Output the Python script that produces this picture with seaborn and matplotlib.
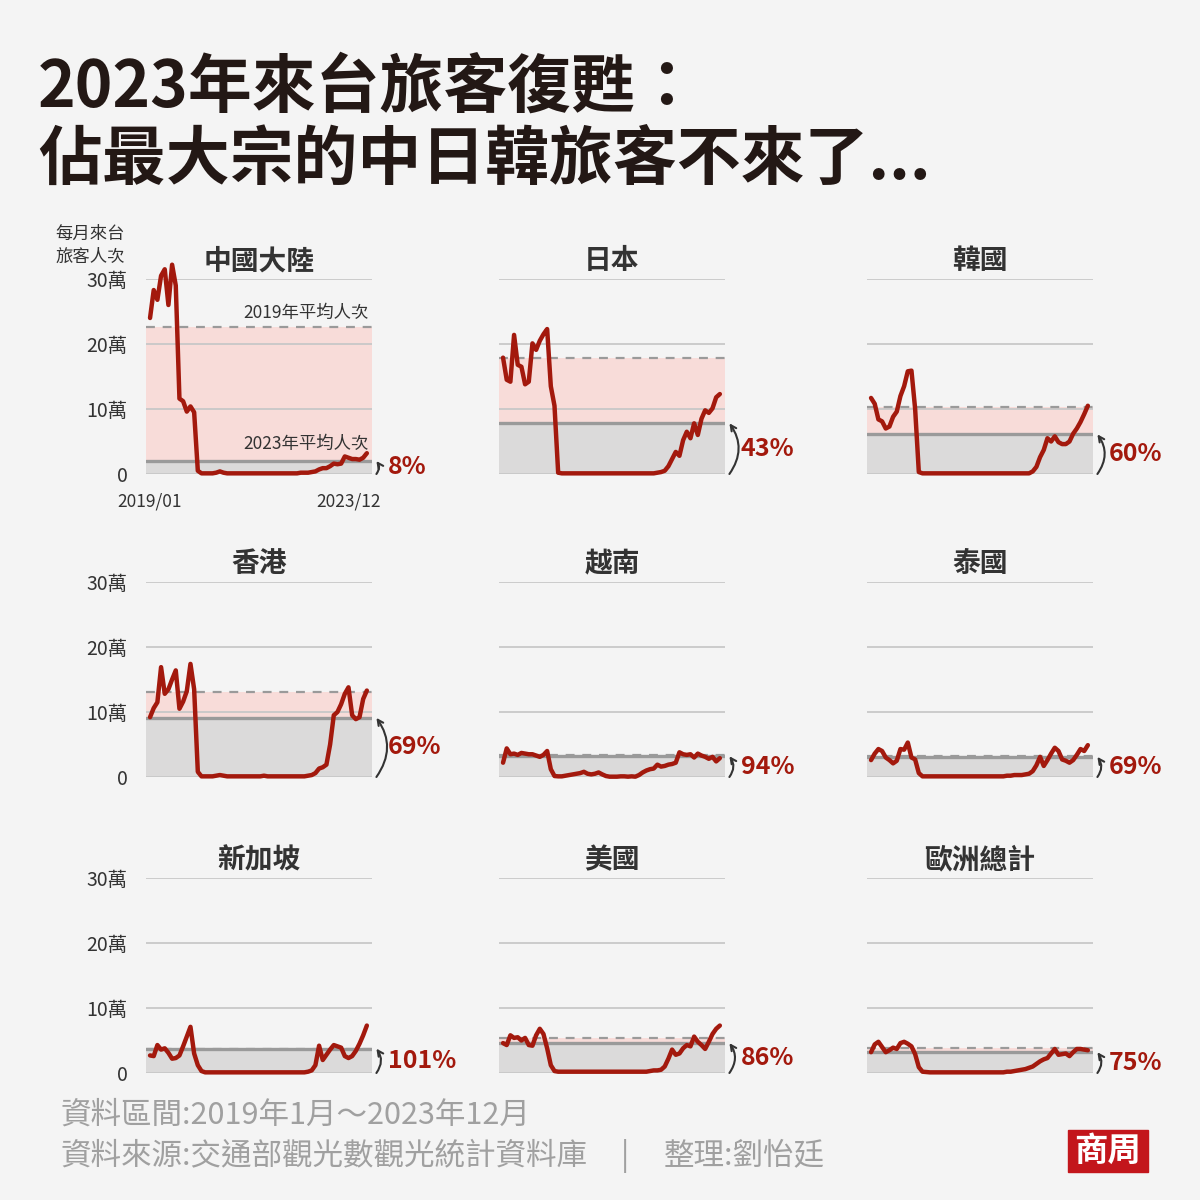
import numpy as np
import pandas as pd
import seaborn as sns
import matplotlib.pyplot as plt
from matplotlib.patches import Rectangle

sns.set_style('white')
plt.rcParams['font.family'] = ['Noto Sans CJK TC', 'DejaVu Sans']

# monthly visitors (unit: 萬人次), 2019/01 - 2023/12
months = list(range(60))

china = [24.0, 28.3, 26.8, 30.5, 31.5, 26.0, 32.2, 29.0, 11.6, 11.2, 9.6, 10.4,
         9.5, 0.5, 0.1, 0.1, 0.1, 0.1, 0.2, 0.4, 0.2, 0.1, 0.1, 0.1,
         0.1, 0.1, 0.1, 0.1, 0.1, 0.1, 0.1, 0.1, 0.1, 0.1, 0.1, 0.1,
         0.1, 0.1, 0.1, 0.1, 0.1, 0.2, 0.2, 0.2, 0.3, 0.4, 0.7, 0.9,
         0.9, 1.2, 1.6, 1.5, 1.6, 2.7, 2.5, 2.3, 2.3, 2.2, 2.5, 3.2]
japan = [17.9, 14.5, 14.2, 21.4, 16.8, 16.5, 13.8, 14.2, 20.1, 19.1, 20.5, 21.5,
         22.3, 13.5, 10.5, 0.2, 0.1, 0.1, 0.1, 0.1, 0.1, 0.1, 0.1, 0.1,
         0.1, 0.1, 0.1, 0.1, 0.1, 0.1, 0.1, 0.1, 0.1, 0.1, 0.1, 0.1,
         0.1, 0.1, 0.1, 0.1, 0.1, 0.1, 0.2, 0.3, 0.5, 1.2, 2.3, 3.4,
         2.8, 5.2, 6.5, 5.5, 7.8, 6.0, 8.5, 9.8, 9.4, 10.1, 11.8, 12.3]
korea = [11.7, 10.8, 8.4, 8.1, 7.0, 7.3, 8.8, 9.6, 12.0, 13.5, 15.8, 15.9,
         10.0, 0.3, 0.1, 0.1, 0.1, 0.1, 0.1, 0.1, 0.1, 0.1, 0.1, 0.1,
         0.1, 0.1, 0.1, 0.1, 0.1, 0.1, 0.1, 0.1, 0.1, 0.1, 0.1, 0.1,
         0.1, 0.1, 0.1, 0.1, 0.1, 0.1, 0.1, 0.1, 0.4, 1.1, 2.6, 3.7,
         5.5, 5.0, 5.8, 4.9, 4.6, 4.6, 5.0, 6.2, 7.0, 8.0, 9.2, 10.5]
hongkong = [9.2, 10.6, 11.5, 16.9, 12.8, 13.5, 15.0, 16.4, 10.5, 11.6, 13.2, 17.4,
            13.5, 0.8, 0.1, 0.1, 0.1, 0.1, 0.2, 0.3, 0.2, 0.1, 0.1, 0.1,
            0.1, 0.1, 0.1, 0.1, 0.1, 0.1, 0.1, 0.2, 0.1, 0.1, 0.1, 0.1,
            0.1, 0.1, 0.1, 0.1, 0.1, 0.1, 0.1, 0.2, 0.3, 0.6, 1.3, 1.5,
            1.9, 5.0, 9.5, 10.0, 11.2, 12.8, 13.8, 9.5, 8.9, 9.2, 12.0, 13.3]
vietnam = [2.2, 4.4, 3.5, 3.6, 3.4, 3.7, 3.6, 3.5, 3.5, 3.3, 3.1, 3.4,
           4.0, 1.2, 0.15, 0.1, 0.1, 0.2, 0.3, 0.4, 0.5, 0.6, 0.8, 0.5,
           0.4, 0.5, 0.7, 0.4, 0.15, 0.05, 0.05, 0.05, 0.1, 0.1, 0.05, 0.1,
           0.05, 0.3, 0.7, 1.0, 1.2, 1.3, 1.9, 1.6, 1.7, 1.9, 2.0, 2.2,
           3.8, 3.5, 3.4, 3.5, 3.0, 3.6, 3.3, 3.1, 2.8, 3.1, 2.4, 2.9]
thailand = [2.6, 3.6, 4.3, 4.0, 3.0, 2.6, 2.1, 2.5, 4.3, 4.2, 5.3, 3.0,
            2.7, 0.6, 0.1, 0.1, 0.1, 0.1, 0.1, 0.1, 0.1, 0.1, 0.1, 0.1,
            0.1, 0.1, 0.1, 0.1, 0.1, 0.1, 0.1, 0.1, 0.1, 0.1, 0.1, 0.1,
            0.1, 0.2, 0.2, 0.3, 0.3, 0.3, 0.4, 0.5, 0.9, 1.8, 3.1, 1.7,
            2.6, 3.6, 4.5, 4.0, 2.7, 2.5, 2.2, 2.6, 3.4, 4.3, 4.0, 4.9]
singapore = [2.7, 2.6, 4.3, 3.6, 3.8, 3.1, 2.2, 2.3, 2.7, 4.1, 5.6, 7.1,
             3.0, 1.2, 0.3, 0.1, 0.1, 0.1, 0.1, 0.1, 0.1, 0.1, 0.1, 0.1,
             0.1, 0.1, 0.1, 0.1, 0.1, 0.1, 0.1, 0.1, 0.1, 0.1, 0.1, 0.1,
             0.1, 0.1, 0.1, 0.1, 0.1, 0.1, 0.1, 0.2, 0.4, 1.2, 4.2, 2.0,
             2.8, 3.6, 4.3, 4.1, 3.9, 2.6, 2.3, 2.6, 3.4, 4.5, 5.8, 7.3]
usa = [4.6, 4.3, 5.8, 5.4, 5.5, 5.0, 5.4, 4.3, 4.2, 5.8, 6.8, 6.0,
       3.8, 1.2, 0.3, 0.2, 0.2, 0.2, 0.2, 0.2, 0.2, 0.2, 0.2, 0.2,
       0.2, 0.2, 0.2, 0.2, 0.2, 0.2, 0.2, 0.2, 0.2, 0.2, 0.2, 0.2,
       0.2, 0.2, 0.2, 0.2, 0.3, 0.4, 0.4, 0.5, 1.0, 2.2, 3.6, 2.8,
       3.0, 3.8, 4.3, 4.1, 5.6, 4.8, 4.3, 3.7, 4.8, 6.0, 6.8, 7.3]
europe = [3.2, 4.4, 4.8, 4.0, 3.2, 3.5, 3.9, 3.7, 4.6, 4.8, 4.5, 4.1,
          2.9, 0.9, 0.2, 0.15, 0.1, 0.1, 0.1, 0.1, 0.1, 0.1, 0.1, 0.1,
          0.1, 0.1, 0.1, 0.1, 0.1, 0.1, 0.1, 0.1, 0.1, 0.1, 0.1, 0.1,
          0.1, 0.2, 0.2, 0.3, 0.4, 0.5, 0.6, 0.8, 1.0, 1.4, 1.8, 2.1,
          2.3, 3.0, 3.7, 2.8, 2.9, 3.0, 2.6, 3.2, 3.7, 3.7, 3.6, 3.5]

regions = ['中國大陸', '日本', '韓國', '香港', '越南', '泰國', '新加坡', '美國', '歐洲總計']
series = [china, japan, korea, hongkong, vietnam, thailand, singapore, usa, europe]
avg_2019 = [22.6, 17.9, 10.3, 13.1, 3.4, 3.3, 3.7, 5.4, 3.8]
avg_2023 = [2.0, 7.8, 6.1, 9.1, 3.2, 3.1, 3.75, 4.6, 3.2]
ratio_labels = ['8%', '43%', '60%', '69%', '94%', '69%', '101%', '86%', '75%']
yticks = [0, 10, 20, 30]
ytick_labels = ['0', '10萬', '20萬', '30萬']

RED = '#a3190d'
BG = '#f4f4f4'
GRID = '#c8c8c8'
AVG = '#9a9a9a'
TXT = '#333333'

fig = plt.figure(figsize=(12, 12), dpi=100, facecolor=BG)

col_left = [146, 499, 867]
row_base = [474, 777, 1073]
W, H = 226, 195

for k, name in enumerate(regions):
    r, c = divmod(k, 3)
    ax = fig.add_axes([col_left[c] / 1200, 1 - row_base[r] / 1200, W / 1200, H / 1200])
    ax.set_facecolor(BG)
    df = pd.DataFrame({'month': months, 'value': series[k]})

    ax.axhspan(0, avg_2023[k], color='#dbdada', zorder=0.2, lw=0)
    if avg_2019[k] > avg_2023[k]:
        ax.axhspan(avg_2023[k], avg_2019[k], color='#f8dcd9', zorder=0.2, lw=0)
    ax.axhline(avg_2023[k], color=AVG, lw=2.4, zorder=1)
    ax.axhline(avg_2019[k], color=AVG, lw=1.6, ls=(0, (4, 3.5)), zorder=1.1)

    sns.lineplot(data=df, x='month', y='value', ax=ax, color=RED, lw=3.2,
                 zorder=3, clip_on=False)

    ax.set_xlim(-1.1, 60.4)
    ax.set_ylim(0, 30)
    ax.set_axisbelow(True)
    ax.yaxis.grid(True, color=GRID, lw=1.3)
    ax.set_yticks(yticks)
    if c == 0:
        ax.set_yticklabels(ytick_labels, fontsize=14, color=TXT)
    else:
        ax.set_yticklabels([])
    ax.tick_params(axis='y', length=0, pad=13)
    ax.set_xticks([])
    ax.set_xlabel('')
    ax.set_ylabel('')
    for s in ax.spines.values():
        s.set_visible(False)
    ax.set_title(name, fontsize=20, fontweight='bold', color=TXT, pad=7)

    # curved arrow from 0 up to the 2023 average, with ratio label
    ax.annotate('', xy=(61.6, avg_2023[k]), xytext=(61.6, 0),
                arrowprops=dict(arrowstyle='->', color=TXT, lw=1.5,
                                connectionstyle='arc3,rad=0.35',
                                shrinkA=0, shrinkB=0),
                annotation_clip=False)
    ax.text(64.7, avg_2023[k] / 2, ratio_labels[k], color=RED, fontsize=18,
            fontweight='bold', va='center', ha='left')

    if k == 0:
        ax.text(59.5, avg_2019[k] + 0.8, '2019年平均人次', ha='right', va='bottom',
                fontsize=12.5, color=TXT)
        ax.text(59.5, avg_2023[k] + 1.2, '2023年平均人次', ha='right', va='bottom',
                fontsize=12.5, color=TXT)
        ax.text(0, -4.2, '2019/01', ha='center', va='center', fontsize=12.5, color=TXT)
        ax.text(54, -4.2, '2023/12', ha='center', va='center', fontsize=12.5, color=TXT)

fig.text(90 / 1200, 1 - 245 / 1200, '每月來台\n旅客人次', ha='center', va='center',
         fontsize=12.5, color=TXT, linespacing=1.35)

fig.text(38 / 1200, 1 - 88 / 1200, '2023年來台旅客復甦：', fontsize=46,
         fontweight='heavy', color='#231815', va='center', ha='left')
fig.text(38 / 1200, 1 - 160 / 1200, '佔最大宗的中日韓旅客不來了...', fontsize=46,
         fontweight='heavy', color='#231815', va='center', ha='left')

FOOT = '#a0a0a0'
fig.text(60 / 1200, 1 - 1115 / 1200, '資料區間:2019年1月～2023年12月', fontsize=22,
         color=FOOT, va='center', ha='left')
fig.text(60 / 1200, 1 - 1156 / 1200, '資料來源:交通部觀光數觀光統計資料庫', fontsize=22,
         color=FOOT, va='center', ha='left')
fig.text(625 / 1200, 1 - 1156 / 1200, '|', fontsize=22, color=FOOT, va='center', ha='center')
fig.text(664 / 1200, 1 - 1156 / 1200, '整理:劉怡廷', fontsize=22, color=FOOT,
         va='center', ha='left')

fig.patches.append(Rectangle((1068 / 1200, 1 - 1172 / 1200), 80 / 1200, 42 / 1200,
                             transform=fig.transFigure, color='#c3161c', zorder=5))
fig.text(1108 / 1200, 1 - 1151 / 1200, '商周', fontsize=24, fontweight='bold',
         color='white', va='center', ha='center', zorder=6)

fig.savefig('out.png', dpi=100, facecolor=BG)
